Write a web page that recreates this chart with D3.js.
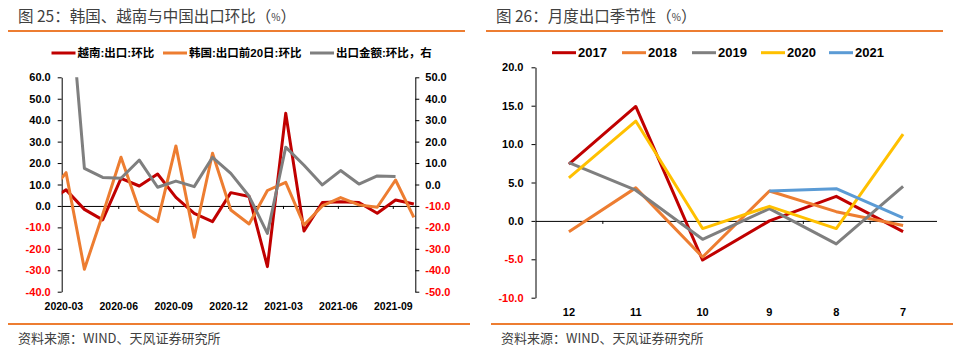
<!DOCTYPE html>
<html>
<head>
<meta charset="utf-8">
<script src="https://cdn.jsdelivr.net/npm/d3@7"></script>
<style>
  body { margin: 0; background: #fff; }
  svg text { font-family: "Liberation Sans", Arial, "Noto Sans CJK SC", sans-serif; }
</style>
</head>
<body>
<script>
// ---- chart 25: monthly m/m change (2020-02 is only partly visible, clipped at the axis)
const months = ['2020-02', '2020-03', '2020-04', '2020-05', '2020-06', '2020-07', '2020-08',
  '2020-09', '2020-10', '2020-11', '2020-12', '2021-01', '2021-02', '2021-03', '2021-04',
  '2021-05', '2021-06', '2021-07', '2021-08', '2021-09', '2021-10']
const vietnam = [2, 7.5, -1.6, -6.5, 12.9, 9.3, 14.9, 4, -3.5, -7.3, 6.2, 4.4, -28.3, 43.2, -11.7,
  1.6, 2, 1.6, -3.4, 2.8, 0.9]
const korea = [5, 15.5, -29.5, -4, 22.7, -1.9, -7.3, 28, -14.6, 24.6, -1.9, -8.4, 7.2, 11, -8.9,
  0, 3.9, 0.5, -0.6, 12.1, -5.3]
const china = [null, 108.7, 7.5, 3.3, 2.9, 11.4, -1.3, 1.6, -1.0, 12.7, 5.2, -5.5, -22.8, 17.4, 9,
  -0.2, 6.5, 0.2, 4.0, 3.7, null]
const leftTicks = [-40, -30, -20, -10, 0, 10, 20, 30, 40, 50, 60]
const rightTicks = [-50, -40, -30, -20, -10, 0, 10, 20, 30, 40, 50]
const monthLabels = ['2020-03', '2020-06', '2020-09', '2020-12', '2021-03', '2021-06', '2021-09']

// ---- chart 26: seasonality by month
const seasonMonths = ['12', '11', '10', '9', '8', '7']
const y2017 = [7.4, 14.9, -5.1, 0, 3.2, -1.4]
const y2018 = [-1.4, 4.3, -4.7, 3.9, 1.2, -0.6]
const y2019 = [7.6, 4.0, -2.4, 1.6, -3.0, 4.5]
const y2020 = [5.6, 13.0, -1.0, 1.9, -1.0, 11.3]
const y2021 = [null, null, null, 3.9, 4.2, 0.4]
const seasonTicks = [-10, -5, 0, 5, 10, 15, 20]

const col = {
  red: '#c00000',
  orange: '#ed7d31',
  grey: '#7f7f7f',
  yellow: '#ffc000',
  blue: '#5b9bd5',
  title: '#404040'
}

const svg = d3.select(document.body).append('svg')
  .attr('width', 963)
  .attr('height', 354)
  .attr('xmlns', 'http://www.w3.org/2000/svg')

const fmt = d => d.toFixed(1)

function styleAxis(g, size) {
  g.attr('font-size', size)
    .attr('font-weight', 'bold')
    .attr('font-family', '"Liberation Sans", Arial, sans-serif')
  g.selectAll('path, line').attr('stroke', '#000').attr('stroke-width', 1)
  return g
}

function header(x0, x1, label, y) {
  const t = svg.append('text')
    .attr('x', x0 + 10)
    .attr('y', 22)
    .attr('fill', col.title)
    .attr('font-size', 15.5)
    .style('font-family', '"Noto Sans CJK SC", sans-serif')
  t.append('tspan').text(label)
  t.append('tspan').attr('font-size', 10).attr('dy', -1).text('%')
  t.append('tspan').attr('dy', 1).text('）')
  svg.append('line')
    .attr('x1', x0).attr('x2', x1)
    .attr('y1', 31).attr('y2', 31)
    .attr('stroke', col.orange).attr('stroke-width', 2)
}

function footer(x0, x1) {
  svg.append('line')
    .attr('x1', x0).attr('x2', x1)
    .attr('y1', 324).attr('y2', 324)
    .attr('stroke', col.orange).attr('stroke-width', 2)
  svg.append('text')
    .attr('x', x0 + 10)
    .attr('y', 343)
    .attr('fill', col.title)
    .attr('font-size', 13)
    .style('font-family', '"Noto Sans CJK SC", sans-serif')
    .text('资料来源：WIND、天风证券研究所')
}

function legend(items, y, size) {
  items.forEach(([name, colour, x]) => {
    svg.append('line')
      .attr('x1', x).attr('x2', x + 24)
      .attr('y1', y).attr('y2', y)
      .attr('stroke', colour).attr('stroke-width', 3)
    svg.append('text')
      .attr('x', x + 26)
      .attr('y', y + size * 0.36)
      .attr('font-size', size)
      .attr('font-weight', 'bold')
      .style('font-family', '"Liberation Sans", Arial, "Noto Sans CJK SC", sans-serif')
      .text(name)
  })
}

header(8, 465, '图 25：韩国、越南与中国出口环比（')
header(486, 943, '图 26：月度出口季节性（')
footer(8, 470)
footer(491, 953)

// ================= chart 25 =================
const xL = d3.scaleLinear().domain([0.76, 20.08]).range([61.7, 415.3])
const yL = d3.scaleLinear().domain([-40, 60]).range([291.7, 77.3])
const yR = d3.scaleLinear().domain([-50, 50]).range([291.7, 77.3])

svg.append('clipPath').attr('id', 'clipL')
  .append('rect')
  .attr('x', xL.range()[0]).attr('y', yL.range()[1])
  .attr('width', xL.range()[1] - xL.range()[0])
  .attr('height', yL.range()[0] - yL.range()[1])

const gL = svg.append('g')

const axL = gL.append('g')
  .attr('transform', `translate(${xL.range()[0]},0)`)
  .call(d3.axisLeft(yL).tickValues(leftTicks).tickSize(4).tickSizeOuter(0).tickPadding(7).tickFormat(fmt))
styleAxis(axL, 11)
axL.selectAll('.tick text').attr('fill', d => d < 0 ? '#ff0000' : '#000')

const axR = gL.append('g')
  .attr('transform', `translate(${xL.range()[1]},0)`)
  .call(d3.axisRight(yR).tickValues(rightTicks).tickSize(4).tickSizeOuter(0).tickPadding(6).tickFormat(fmt))
styleAxis(axR, 11)
axR.selectAll('.tick text').attr('fill', d => d < 0 ? '#ff0000' : '#000')

// month label positions sit a little left of the data point
const labelPos = monthLabels.map(m => months.indexOf(m) - 0.15)

const axZero = gL.append('g')
  .attr('transform', `translate(0,${yL(0)})`)
  .call(d3.axisBottom(xL).tickValues(labelPos.slice(1)).tickSize(3).tickSizeOuter(0).tickFormat(''))
styleAxis(axZero, 10)

const axMonths = gL.append('g')
  .attr('transform', 'translate(0,303)')
  .call(d3.axisBottom(xL).tickValues(labelPos).tickSize(0).tickPadding(0)
    .tickFormat(p => months[Math.round(p + 0.15)]))
styleAxis(axMonths, 10.5)
axMonths.select('.domain').remove()

const lineLeft = d3.line().defined(d => d != null).x((d, i) => xL(i)).y(d => yL(d))
const lineRight = d3.line().defined(d => d != null).x((d, i) => xL(i)).y(d => yR(d))

const plotL = gL.append('g').attr('clip-path', 'url(#clipL)')
plotL.append('path').attr('d', lineLeft(vietnam))
  .attr('fill', 'none').attr('stroke', col.red).attr('stroke-width', 3).attr('stroke-linejoin', 'round')
plotL.append('path').attr('d', lineLeft(korea))
  .attr('fill', 'none').attr('stroke', col.orange).attr('stroke-width', 3).attr('stroke-linejoin', 'round')
plotL.append('path').attr('d', lineRight(china))
  .attr('fill', 'none').attr('stroke', col.grey).attr('stroke-width', 3).attr('stroke-linejoin', 'round')

legend([
  ['越南:出口:环比', col.red, 51.5],
  ['韩国:出口前20日:环比', col.orange, 163],
  ['出口金额:环比，右', col.grey, 310]
], 53, 11.5)

// ================= chart 26 =================
const xS = d3.scaleBand().domain(seasonMonths).range([535.5, 936.5])
const xEdge = d3.scaleLinear().domain([0, seasonMonths.length]).range(xS.range())
const yS = d3.scaleLinear().domain([-10, 20]).range([297.7, 67.3])

const gS = svg.append('g')

const axS = gS.append('g')
  .attr('transform', `translate(${xS.range()[0]},0)`)
  .call(d3.axisLeft(yS).tickValues(seasonTicks).tickSize(4).tickSizeOuter(0).tickPadding(8).tickFormat(fmt))
styleAxis(axS, 11)
axS.selectAll('.tick text').attr('fill', d => d < 0 ? '#ff0000' : '#000')

const axSZero = gS.append('g')
  .attr('transform', `translate(0,${yS(0)})`)
  .call(d3.axisBottom(xEdge).tickValues(d3.range(1, seasonMonths.length)).tickSize(3).tickSizeOuter(0).tickFormat(''))
styleAxis(axSZero, 10)

const axSMonths = gS.append('g')
  .attr('transform', 'translate(0,308)')
  .call(d3.axisBottom(xS).tickSize(0).tickPadding(0))
styleAxis(axSMonths, 11)
axSMonths.select('.domain').remove()

const lineS = d3.line().defined(d => d != null)
  .x((d, i) => xS(seasonMonths[i]) + xS.bandwidth() / 2)
  .y(d => yS(d))

const years = [
  ['2017', y2017, col.red],
  ['2018', y2018, col.orange],
  ['2019', y2019, col.grey],
  ['2020', y2020, col.yellow],
  ['2021', y2021, col.blue]
]
years.forEach(([name, values, colour]) => {
  gS.append('path').attr('d', lineS(values))
    .attr('fill', 'none').attr('stroke', colour).attr('stroke-width', 3).attr('stroke-linejoin', 'round')
})

legend([
  ['2017', col.red, 552],
  ['2018', col.orange, 622],
  ['2019', col.grey, 692],
  ['2020', col.yellow, 761],
  ['2021', col.blue, 829]
], 52.7, 13)
</script>
</body>
</html>
